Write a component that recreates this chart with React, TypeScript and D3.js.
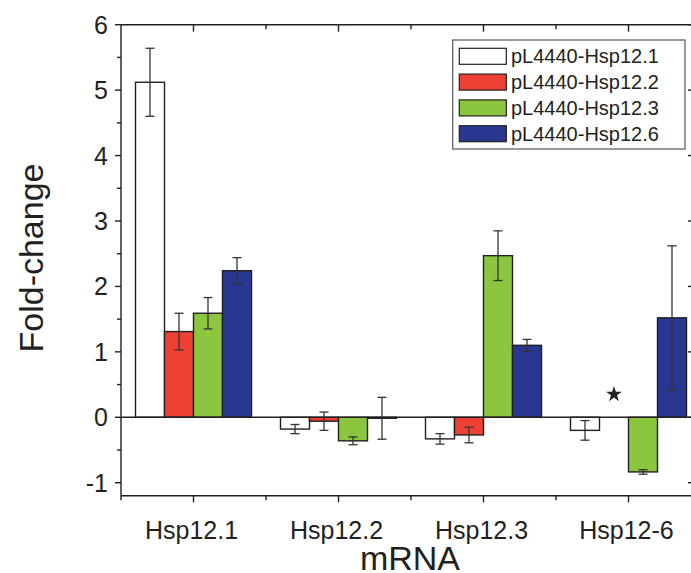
import React from "react";
import * as d3 from "d3";

const categories = ["Hsp12.1", "Hsp12.2", "Hsp12.3", "Hsp12-6"];
const seriesNames = ["pL4440-Hsp12.1", "pL4440-Hsp12.2", "pL4440-Hsp12.3", "pL4440-Hsp12.6"];
const seriesColors = ["#ffffff", "#ef4036", "#8cc63f", "#283891"];

const valuesHsp121: (number | null)[] = [5.12, -0.18, -0.33, -0.2];
const errorsHsp121: (number | null)[] = [0.52, 0.07, 0.08, 0.15];
const valuesHsp122: (number | null)[] = [1.31, -0.06, -0.27, null];
const errorsHsp122: (number | null)[] = [0.28, 0.14, 0.12, null];
const valuesHsp123: (number | null)[] = [1.59, -0.36, 2.47, -0.835];
const errorsHsp123: (number | null)[] = [0.24, 0.06, 0.38, 0.035];
const valuesHsp126: (number | null)[] = [2.24, -0.015, 1.1, 1.52];
const errorsHsp126: (number | null)[] = [0.2, 0.32, 0.09, 1.1];

const yTicks = [-1, 0, 1, 2, 3, 4, 5, 6];
const yMinorTicks = [-0.5, 0.5, 1.5, 2.5, 3.5, 4.5, 5.5];

const starMarks = [{ category: "Hsp12-6", series: 1, value: 0.35 }];

const allValues = [valuesHsp121, valuesHsp122, valuesHsp123, valuesHsp126];
const allErrors = [errorsHsp121, errorsHsp122, errorsHsp123, errorsHsp126];

const FONT = "'Liberation Sans', Arial, Helvetica, sans-serif";
const INK = "#231f20";

export default function App() {
  const left = 121;
  const right = 695;
  const top = 24.7;
  const bottom = 495.8;

  const x = d3.scaleBand<string>().domain(categories).range([left, left + 145 * 4]).padding(0);
  const inner = d3
    .scaleBand<number>()
    .domain(d3.range(seriesNames.length))
    .range([0, 116])
    .padding(0);
  const y = d3.scaleLinear().domain([-1.2, 6]).range([bottom, top]);

  const center = (c: string) => (x(c) as number) + x.bandwidth() / 2;
  const barX = (c: string, s: number) => center(c) - 58 + (inner(s) as number);
  const bw = inner.bandwidth();

  const catMinor = categories.slice(0, -1).map((c) => center(c) + x.bandwidth() / 2);

  const star = d3.symbol().type(d3.symbolStar).size(78)();

  return (
    <svg width={691} height={573} style={{ position: "absolute", left: 0, top: 0, background: "#fff" }}>
      <rect x={0} y={0} width={691} height={573} fill="#fff" />
      {/* bars */}
      {allValues.map((vals, s) =>
        categories.map((c, i) => {
          const v = vals[i];
          if (v === null) return null;
          const y0 = y(0);
          const y1 = y(v);
          return (
            <rect
              key={`b${s}-${i}`}
              x={barX(c, s)}
              y={Math.min(y0, y1)}
              width={bw}
              height={Math.max(Math.abs(y1 - y0), 1)}
              fill={seriesColors[s]}
              stroke={INK}
              strokeWidth={1.4}
            />
          );
        })
      )}
      {/* zero line */}
      <line x1={left} x2={right} y1={y(0)} y2={y(0)} stroke={INK} strokeWidth={1.5} />
      {/* error bars */}
      {allValues.map((vals, s) =>
        categories.map((c, i) => {
          const v = vals[i];
          const e = allErrors[s][i];
          if (v === null || e === null) return null;
          const cx = barX(c, s) + bw / 2;
          return (
            <g key={`e${s}-${i}`} stroke="#333" strokeWidth={1.3}>
              <line x1={cx} x2={cx} y1={y(v - e)} y2={y(v + e)} />
              <line x1={cx - 4.5} x2={cx + 4.5} y1={y(v + e)} y2={y(v + e)} />
              <line x1={cx - 4.5} x2={cx + 4.5} y1={y(v - e)} y2={y(v - e)} />
            </g>
          );
        })
      )}
      {/* star annotations */}
      {starMarks.map((m, k) => (
        <path
          key={`s${k}`}
          d={star as string}
          transform={`translate(${barX(m.category, m.series) + bw / 2},${y(m.value)})`}
          fill={INK}
        />
      ))}
      {/* frame */}
      <g stroke={INK} strokeWidth={1.4} fill="none">
        <line x1={left} x2={left} y1={top} y2={bottom} />
        <line x1={left} x2={right} y1={bottom} y2={bottom} />
        <line x1={left} x2={right} y1={top} y2={top} />
        <line x1={right} x2={right} y1={top} y2={bottom} />
        {yTicks.map((t) => (
          <g key={`yt${t}`}>
            <line x1={left - 6} x2={left} y1={y(t)} y2={y(t)} />
            <line x1={right - 7} x2={right} y1={y(t)} y2={y(t)} />
          </g>
        ))}
        {yMinorTicks.map((t) => (
          <g key={`ym${t}`}>
            <line x1={left - 4} x2={left} y1={y(t)} y2={y(t)} />
            <line x1={right - 4} x2={right} y1={y(t)} y2={y(t)} />
          </g>
        ))}
        {categories.map((c) => (
          <g key={`xt${c}`}>
            <line x1={center(c)} x2={center(c)} y1={bottom} y2={bottom + 6.5} />
            <line x1={center(c)} x2={center(c)} y1={top} y2={top + 7} />
          </g>
        ))}
        {catMinor.map((m, k) => (
          <g key={`xm${k}`}>
            <line x1={m} x2={m} y1={bottom} y2={bottom + 4.5} />
            <line x1={m} x2={m} y1={top} y2={top + 4.5} />
          </g>
        ))}
        <line x1={left} x2={left} y1={bottom} y2={bottom + 4.5} />
      </g>
      {/* tick labels */}
      {yTicks.map((t) => (
        <text
          key={`yl${t}`}
          x={108}
          y={y(t) + 9}
          textAnchor="end"
          fontFamily={FONT}
          fontSize={25}
          fill={INK}
        >
          {t}
        </text>
      ))}
      {categories.map((c) => (
        <text
          key={`xl${c}`}
          x={center(c) - 2}
          y={539}
          textAnchor="middle"
          fontFamily={FONT}
          fontSize={25}
          fill={INK}
        >
          {c}
        </text>
      ))}
      {/* axis titles */}
      <text
        transform="translate(43,258) rotate(-90)"
        textAnchor="middle"
        fontFamily={FONT}
        fontSize={34}
        fill={INK}
      >
        Fold-change
      </text>
      <text x={410} y={570} textAnchor="middle" fontFamily={FONT} fontSize={34} fill={INK}>
        mRNA
      </text>
      {/* legend */}
      <rect x={452.7} y={40} width={232.3} height={109} fill="#fff" stroke="#555" strokeWidth={1.2} />
      {seriesNames.map((n, s) => {
        const cy = 56.3 + s * 25.8;
        return (
          <g key={`lg${s}`}>
            <rect x={459.3} y={cy - 8} width={47} height={16} fill={seriesColors[s]} stroke={INK} strokeWidth={1.2} />
            <text x={511} y={cy + 7} fontFamily={FONT} fontSize={20} fill={INK}>
              {n}
            </text>
          </g>
        );
      })}
    </svg>
  );
}
